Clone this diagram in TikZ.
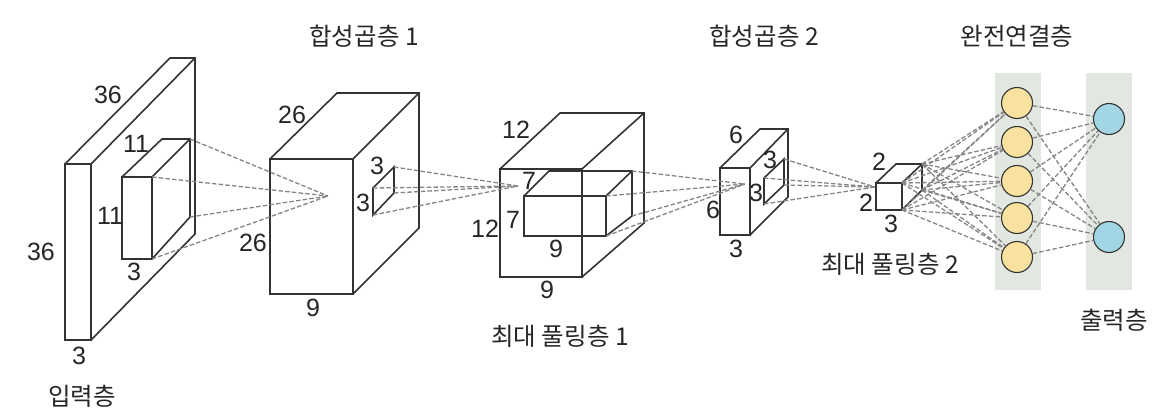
\documentclass[tikz,border=0pt]{standalone}
\usepackage{fontspec}
\setmainfont{Liberation Sans}
\newfontfamily\krfont{Noto Sans CJK KR}
\definecolor{bandgray}{HTML}{E3E7E2}
\definecolor{circyellow}{HTML}{F9E2A0}
\definecolor{circblue}{HTML}{A2D6E4}
\tikzset{
  edgeline/.style={draw=black!80,line width=1.6pt,line join=miter},
  dashline/.style={draw=black!48,line width=1.3pt,dash pattern=on 4.5pt off 2.2pt},
  dimlabel/.style={font=\fontsize{25}{25}\selectfont,text=black!85,inner sep=0pt},
  title/.style={font=\krfont\fontsize{24.5}{26}\selectfont,text=black!85,inner sep=0pt},
  band/.style={fill=bandgray,draw=none,minimum width=46pt,minimum height=217pt,inner sep=0pt},
  yellowc/.style={circle,draw=black!80,line width=1.1pt,fill=circyellow,minimum size=31pt,inner sep=0pt},
  bluec/.style={circle,draw=black!80,line width=1.1pt,fill=circblue,minimum size=31pt,inner sep=0pt}
}
% name, front left, top, right, bottom, back left x, back top y, back right x, back bottom y
\newcommand{\cuboidshape}[9]{%
  \coordinate (#1-tl) at (#2,#3);
  \coordinate (#1-tr) at (#4,#3);
  \coordinate (#1-br) at (#4,#5);
  \coordinate (#1-bl) at (#2,#5);
  \coordinate (#1-btl) at (#6,#7);
  \coordinate (#1-btr) at (#8,#7);
  \coordinate (#1-bbr) at (#8,#9);
  \draw[edgeline] (#1-tl) -- (#1-tr) -- (#1-br) -- (#1-bl) -- cycle;
  \draw[edgeline] (#1-tl) -- (#1-btl) -- (#1-btr) -- (#1-bbr) -- (#1-br);
  \draw[edgeline] (#1-tr) -- (#1-btr);
}
\begin{document}
\begin{tikzpicture}[x=1pt,y=-1pt]
\useasboundingbox (0,0) rectangle (1164,416);
% bands
\node[band] (bandA) at (1018,181.5) {};
\node[band] (bandB) at (1109,181.5) {};
% cuboids
\cuboidshape{a}{65}{164}{91}{340}{170}{58}{195}{234}
\cuboidshape{ai}{122}{177}{152}{259}{162}{139}{190}{217}
\cuboidshape{b}{270}{159}{353}{294}{337}{93}{419}{228}
\cuboidshape{c}{500}{169}{582}{277}{560}{113}{644}{223}
\cuboidshape{ci}{524}{196}{606}{236}{549}{171}{632}{216}
\cuboidshape{d}{720}{168}{750}{235}{760}{129}{788}{197}
\cuboidshape{e}{876}{183}{902}{210}{896}{164}{922}{190}
% small filters
\coordinate (p1) at (373,188); \coordinate (p2) at (394,167);
\coordinate (p3) at (394,193); \coordinate (p4) at (373,215);
\draw[edgeline] (p1) -- (p2) -- (p3) -- (p4) -- cycle;
\coordinate (q1) at (764,178); \coordinate (q2) at (784,159);
\coordinate (q3) at (784,185); \coordinate (q4) at (764,204);
\draw[edgeline] (q1) -- (q2) -- (q3) -- (q4) -- cycle;
% apexes
\coordinate (apexA) at (328,196);
\coordinate (apexB) at (518,186);
\coordinate (apexC) at (745,184);
\coordinate (apexD) at (875,187);
% convergent dashed lines
\foreach \s in {ai-btr,ai-tr,ai-bbr,ai-br}{\draw[dashline] (\s) -- (apexA);}
\foreach \s in {p1,p2,p3,p4}{\draw[dashline] (\s) -- (apexB);}
\foreach \s in {ci-btr,ci-tr,ci-bbr,ci-br}{\draw[dashline] (\s) -- (apexC);}
\foreach \s in {q1,q2,q3,q4}{\draw[dashline] (\s) -- (apexD);}
% fully connected
\node[yellowc] (y1) at (1017,103) {};
\node[yellowc] (y2) at (1017,142) {};
\node[yellowc] (y3) at (1017,181) {};
\node[yellowc] (y4) at (1017,218) {};
\node[yellowc] (y5) at (1017,257) {};
\node[bluec] (o1) at (1109,119) {};
\node[bluec] (o2) at (1109,237) {};
\foreach \s in {e-btr,e-tr,e-bbr,e-br}{
  \foreach \t in {y1,y2,y3,y4,y5}{\draw[dashline] (\s) -- (\t);}
}
\foreach \s in {y1,y2,y3,y4,y5}{
  \foreach \t in {o1,o2}{\draw[dashline] (\s) -- (\t);}
}
% titles
\node[title] (t1) at (364,36) {합성곱층 1};
\node[title] (t2) at (764,36) {합성곱층 2};
\node[title] (t3) at (1017,36) {완전연결층};
\node[title] (t4) at (560,336) {최대 풀링층 1};
\node[title] (t5) at (890,264) {최대 풀링층 2};
\node[title] (t6) at (82,396) {입력층};
\node[title] (t7) at (1114,320) {출력층};
% dimensions
\node[dimlabel] (l1) at (108,95) {36};
\node[dimlabel] (l2) at (41,252) {36};
\node[dimlabel] (l3) at (79,356) {3};
\node[dimlabel] (l4) at (136,144) {11};
\node[dimlabel] (l5) at (110,216) {11};
\node[dimlabel] (l6) at (134,272) {3};
\node[dimlabel] (l7) at (292,115) {26};
\node[dimlabel] (l8) at (253,243) {26};
\node[dimlabel] (l9) at (313,308) {9};
\node[dimlabel] (l10) at (377,166) {3};
\node[dimlabel] (l11) at (363,203) {3};
\node[dimlabel] (l12) at (516,130) {12};
\node[dimlabel] (l13) at (485,229) {12};
\node[dimlabel] (l14) at (547,290) {9};
\node[dimlabel] (l15) at (529,181) {7};
\node[dimlabel] (l16) at (513,220) {7};
\node[dimlabel] (l17) at (556,249) {9};
\node[dimlabel] (l18) at (736,135) {6};
\node[dimlabel] (l19) at (713,210) {6};
\node[dimlabel] (l20) at (736,249) {3};
\node[dimlabel] (l21) at (770,160) {3};
\node[dimlabel] (l22) at (756,193) {3};
\node[dimlabel] (l23) at (879,162) {2};
\node[dimlabel] (l24) at (866,203) {2};
\node[dimlabel] (l25) at (891,224) {3};
\end{tikzpicture}
\end{document}
